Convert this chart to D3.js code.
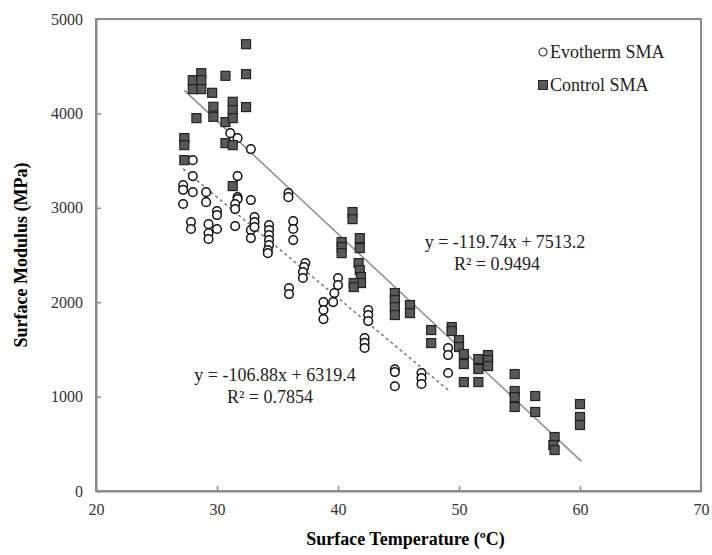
<!DOCTYPE html>
<html>
<head>
<meta charset="utf-8">
<script src="https://cdnjs.cloudflare.com/ajax/libs/d3/7.8.5/d3.min.js"></script>
<style>
  body { margin: 0; background: #fff; }
  svg text { font-family: "Liberation Serif", "DejaVu Serif", serif; }
</style>
</head>
<body>
<div id="displaybox"></div>
<script>
// Evotherm SMA (open circles)
let evoTemp = [27.2, 27.2, 27.2, 28.0, 28.0, 28.0, 27.85, 27.85,
    29.1, 29.1, 29.3, 29.3, 29.3, 30.0, 30.0, 30.0,
    31.1, 31.7, 31.7, 31.7, 31.7, 31.5, 31.5, 31.5,
    32.8, 32.8, 32.8, 32.8, 33.1, 33.1, 33.1,
    34.3, 34.3, 34.3, 34.3, 34.3, 34.2, 34.2,
    35.9, 35.9, 35.95, 35.95, 36.3, 36.3, 36.3,
    37.3, 37.2, 37.1, 37.1, 38.8, 38.8, 38.8,
    39.7, 39.6, 40.0, 40.0, 42.2, 42.2, 42.2, 42.5, 42.5, 42.5,
    44.7, 44.7, 44.7, 46.9, 46.9, 46.9, 49.1, 49.1, 49.1];
let evoModulus = [3240, 3190, 3040, 3505, 3336, 3166, 2849, 2775,
    3166, 3060, 2827, 2732, 2669, 2965, 2923, 2775,
    3791, 3738, 3336, 3113, 3092, 3040, 2986, 2806,
    3622, 3082, 2764, 2679, 2902, 2849, 2796,
    2817, 2764, 2711, 2658, 2605, 2552, 2520,
    3155, 3113, 2150, 2086, 2859, 2775, 2658,
    2414, 2372, 2319, 2256, 2001, 1917, 1821,
    2097, 2001, 2256, 2181, 1620, 1570, 1515, 1917, 1864, 1800,
    1290, 1260, 1110, 1250, 1197, 1133, 1514, 1440, 1250];

// Control SMA (filled squares)
let ctrlTemp = [27.3, 27.3, 27.3, 28.0, 28.0, 28.3, 28.7, 28.7, 28.7,
    29.6, 29.7, 29.7, 30.7, 30.7, 30.7, 31.3, 31.3, 31.3, 31.3, 31.3,
    32.4, 32.4, 32.4, 40.3, 40.3, 40.3, 41.2, 41.2, 41.8, 41.8,
    41.7, 41.8, 41.9, 41.9, 41.3, 41.3,
    44.7, 44.7, 44.7, 44.7, 45.95, 45.95, 47.7, 47.7, 49.4, 49.4,
    50.0, 50.0, 50.4, 50.4, 50.4, 51.6, 51.6, 51.6, 52.4, 52.4, 52.4,
    54.6, 54.6, 54.6, 54.6, 56.3, 56.3, 57.9, 57.8, 57.9, 60.0, 60.0, 60.0];
let ctrlModulus = [3738, 3664, 3505, 4352, 4257, 3950, 4426, 4352, 4257,
    4218, 4070, 3964, 4398, 3908, 3685, 4123, 4035, 3950, 3664, 3230,
    4733, 4416, 4067, 2637, 2584, 2520, 2955, 2880, 2679, 2573,
    2414, 2340, 2266, 2203, 2203, 2160,
    2097, 2022, 1948, 1864, 1970, 1885, 1705, 1567, 1737, 1694,
    1599, 1525, 1451, 1345, 1154, 1398, 1292, 1154, 1440, 1387, 1324,
    1239, 1059, 995, 890, 1006, 837, 572, 487, 434, 921, 784, 699];

// trend lines: slope, intercept, x range
let ctrlFit = [-119.74, 7513.2];
let ctrlFitRange = [27.3, 60.1];
let evoFit = [-106.88, 6319.4];
let evoFitRange = [27.2, 49.2];

let xTicks = [20, 30, 40, 50, 60, 70];
let yTicks = [0, 1000, 2000, 3000, 4000, 5000];

let serif = "'Liberation Serif', 'DejaVu Serif', serif";
let totalW = 712, totalH = 555;
let margin = {top: 19, right: 11, bottom: 64, left: 96};
let width = totalW - margin.left - margin.right;
let height = totalH - margin.top - margin.bottom;

let svg = d3.select("#displaybox")
    .append("svg")
        .attr("width", totalW)
        .attr("height", totalH)
        .attr("font-family", serif);
let group = svg.append("g")
    .attr("transform", `translate(${margin.left}, ${margin.top})`);

let x = d3.scaleLinear().domain([20, 70]).range([0, width]);
let y = d3.scaleLinear().domain([0, 5000]).range([height, 0]);

// frame
group.append("rect")
    .attr("width", width)
    .attr("height", height)
    .attr("fill", "none")
    .attr("stroke", "#8c8c8c")
    .attr("stroke-width", 2);

// axes, ticks point inward
let xAxis = group.append("g")
    .attr("transform", `translate(0, ${height})`)
    .attr("font-family", serif)
    .call(d3.axisBottom(x).tickValues(xTicks).tickFormat(d3.format("d"))
        .tickSizeInner(-5).tickSizeOuter(0).tickPadding(13));
xAxis.attr("font-family", serif);
xAxis.select(".domain").attr("stroke", "#8c8c8c").attr("stroke-width", 2);
xAxis.selectAll(".tick line").attr("stroke", "#8c8c8c").attr("stroke-width", 1.5);
xAxis.selectAll("text").attr("font-size", 16).attr("fill", "#333");

let yAxis = group.append("g")
    .call(d3.axisLeft(y).tickValues(yTicks).tickFormat(d3.format("d"))
        .tickSizeInner(-5).tickSizeOuter(0).tickPadding(13));
yAxis.attr("font-family", serif);
yAxis.select(".domain").attr("stroke", "#8c8c8c").attr("stroke-width", 2);
yAxis.selectAll(".tick line").attr("stroke", "#8c8c8c").attr("stroke-width", 1.5);
yAxis.selectAll("text").attr("font-size", 16).attr("fill", "#333");

// axis titles
svg.append("text")
    .attr("x", margin.left + width / 2 + 7)
    .attr("y", 545)
    .attr("text-anchor", "middle")
    .attr("font-size", 18)
    .attr("font-weight", "bold")
    .text("Surface Temperature (ºC)");

svg.append("text")
    .attr("transform", `translate(27, 255) rotate(-90)`)
    .attr("text-anchor", "middle")
    .attr("font-size", 18)
    .attr("font-weight", "bold")
    .text("Surface Modulus (MPa)");

// trend lines
function fitLine(fit, range) {
    return range.map(function(t) { return [t, fit[0] * t + fit[1]]; });
}
let line = d3.line()
    .x(function(d) { return x(d[0]); })
    .y(function(d) { return y(d[1]); });

group.append("path")
    .datum(fitLine(evoFit, evoFitRange))
    .attr("d", line)
    .attr("fill", "none")
    .attr("stroke", "#777")
    .attr("stroke-width", 1.5)
    .attr("stroke-dasharray", "3,3");

group.append("path")
    .datum(fitLine(ctrlFit, ctrlFitRange))
    .attr("d", line)
    .attr("fill", "none")
    .attr("stroke", "#8c8c8c")
    .attr("stroke-width", 1.5);

// points
let evoData = evoTemp.map(function(t, i) { return [t, evoModulus[i]]; });
let ctrlData = ctrlTemp.map(function(t, i) { return [t, ctrlModulus[i]]; });

group.selectAll("circle.evo").data(evoData)
    .enter()
    .append("circle")
        .attr("class", "evo")
        .attr("cx", function(d) { return x(d[0]); })
        .attr("cy", function(d) { return y(d[1]); })
        .attr("r", 4.3)
        .attr("fill", "#fff")
        .attr("stroke", "#111")
        .attr("stroke-width", 1.5);

let sq = 9;
group.selectAll("rect.ctrl").data(ctrlData)
    .enter()
    .append("rect")
        .attr("class", "ctrl")
        .attr("x", function(d) { return x(d[0]) - sq / 2; })
        .attr("y", function(d) { return y(d[1]) - sq / 2; })
        .attr("width", sq)
        .attr("height", sq)
        .attr("fill", "#595959")
        .attr("stroke", "#222")
        .attr("stroke-width", 1.2);

// equations
let eqs = [
    {text: "y = -119.74x + 7513.2", x: 505, y: 248},
    {text: "R² = 0.9494", x: 497, y: 270},
    {text: "y = -106.88x + 6319.4", x: 275, y: 381},
    {text: "R² = 0.7854", x: 270, y: 403}
];
svg.selectAll("text.eq").data(eqs)
    .enter()
    .append("text")
        .attr("class", "eq")
        .attr("x", function(d) { return d.x; })
        .attr("y", function(d) { return d.y; })
        .attr("text-anchor", "middle")
        .attr("font-size", 18)
        .attr("fill", "#222")
        .text(function(d) { return d.text; });

// legend
let legend = svg.append("g").attr("transform", "translate(543, 0)");
legend.append("circle")
    .attr("cx", 0).attr("cy", 52).attr("r", 4)
    .attr("fill", "#fff").attr("stroke", "#333").attr("stroke-width", 1.2);
legend.append("text")
    .attr("x", 7).attr("y", 58)
    .attr("font-size", 18).attr("fill", "#222")
    .text("Evotherm SMA");
legend.append("rect")
    .attr("x", -4.5).attr("y", 80.5).attr("width", 9).attr("height", 9)
    .attr("fill", "#595959").attr("stroke", "#222");
legend.append("text")
    .attr("x", 7).attr("y", 91)
    .attr("font-size", 18).attr("fill", "#222")
    .text("Control SMA");
</script>
</body>
</html>
